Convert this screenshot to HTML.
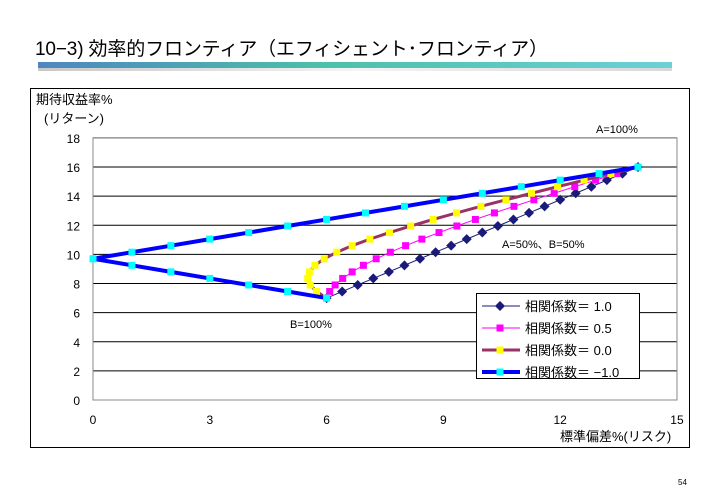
<!DOCTYPE html>
<html><head><meta charset="utf-8"><style>
body{margin:0;background:#fff;width:709px;height:496px;overflow:hidden;font-family:"Liberation Sans","Noto Sans CJK JP",sans-serif}
</style></head><body>
<svg id="s" width="709" height="496" xmlns="http://www.w3.org/2000/svg" font-family="Liberation Sans, Noto Sans CJK JP, sans-serif">
<defs>
<linearGradient id="g" x1="0" x2="1"><stop offset="0" stop-color="#4f86c0"/><stop offset="0.45" stop-color="#4cc0a8"/><stop offset="1" stop-color="#6cd0d8"/></linearGradient>
<linearGradient id="g2" x1="0" x2="1"><stop offset="0" stop-color="#c8c8c8"/><stop offset="0.5" stop-color="#f4f4f4"/><stop offset="1" stop-color="#d8d8d8"/></linearGradient>
</defs>
<text x="35" y="55" font-size="19" fill="#000" textLength="513">10−3) 効率的フロンティア（エフィシェント･フロンティア）</text>
<rect x="38" y="62" width="634" height="6" fill="url(#g)"/>
<rect x="38" y="68" width="634" height="3" fill="url(#g2)"/>
<rect x="30.5" y="88.5" width="659" height="359" fill="#fff" stroke="#000"/>
<g id="plot"></g>
<text x="36" y="104" font-size="13">期待収益率%</text>
<text x="44" y="123" font-size="13">(リターン)</text>
<text x="596" y="133" font-size="11">A=100%</text>
<text x="502" y="248" font-size="11">A=50%、B=50%</text>
<text x="290" y="328" font-size="11">B=100%</text>
<text x="560" y="441" font-size="13">標準偏差%(リスク)</text>
<text x="678" y="485" font-size="8">54</text>
</svg>
<script>
var X=function(v){return 93+v*38.93},Y=function(v){return 400-v*14.56};
var p=document.getElementById('plot'),h='';
for(var i=0;i<=18;i+=2){var y=Y(i);h+='<line x1="93" x2="677" y1="'+y+'" y2="'+y+'" stroke="#000" stroke-width="1"/>';
h+='<text x="80" y="'+(y+5)+'" font-size="12" text-anchor="end">'+i+'</text>';}
h+='<rect x="93" y="'+Y(18)+'" width="584" height="'+(Y(0)-Y(18))+'" fill="none" stroke="#888"/>';
for(var i=0;i<=15;i+=3)h+='<text x="'+X(i)+'" y="424" font-size="12" text-anchor="middle">'+i+'</text>';
var S=[[1,'#1a1a7a',1,'d'],[0.5,'#ff00ff',1,'s'],[0,'#993366',3,'y'],[-1,'#0000ff',4,'c']];
S.forEach(function(s){var r=s[0],pts=[];for(var k=0;k<=20;k++){var w=k/20;var sd=Math.sqrt(w*w*196+(1-w)*(1-w)*36+2*w*(1-w)*r*84);pts.push([X(sd),Y(7+9*w)]);}
h+='<polyline fill="none" stroke="'+s[1]+'" stroke-width="'+s[2]+'" points="'+pts.map(function(q){return q.join(',')}).join(' ')+'"/>';
pts.forEach(function(q){if(s[3]=='d')h+='<polygon points="'+q[0]+','+(q[1]-5)+' '+(q[0]+5)+','+q[1]+' '+q[0]+','+(q[1]+5)+' '+(q[0]-5)+','+q[1]+'" fill="#1a1a7a"/>';
else{var c=s[3]=='s'?'#ff00ff':s[3]=='y'?'#ffff00':'#00ffff';h+='<rect x="'+(q[0]-3.5)+'" y="'+(q[1]-3.5)+'" width="7" height="7" fill="'+c+'"/>';}});});
h+='<rect x="476.5" y="293.5" width="163" height="85" fill="#fff" stroke="#000"/>';
var L=['相関係数＝ 1.0','相関係数＝ 0.5','相関係数＝ 0.0','相関係数＝ −1.0'];
S.forEach(function(s,i){var y=306+i*22;h+='<line x1="482" x2="520" y1="'+y+'" y2="'+y+'" stroke="'+s[1]+'" stroke-width="'+s[2]+'"/>';
if(s[3]=='d')h+='<polygon points="500,'+(y-5)+' 505,'+y+' 500,'+(y+5)+' 495,'+y+'" fill="#1a1a7a"/>';else{var c=s[3]=='s'?'#ff00ff':s[3]=='y'?'#ffff00':'#00ffff';h+='<rect x="496.5" y="'+(y-3.5)+'" width="7" height="7" fill="'+c+'"/>';}
h+='<text x="525" y="'+(y+5)+'" font-size="13">'+L[i]+'</text>';});
p.innerHTML=h;
</script>
</body></html>
